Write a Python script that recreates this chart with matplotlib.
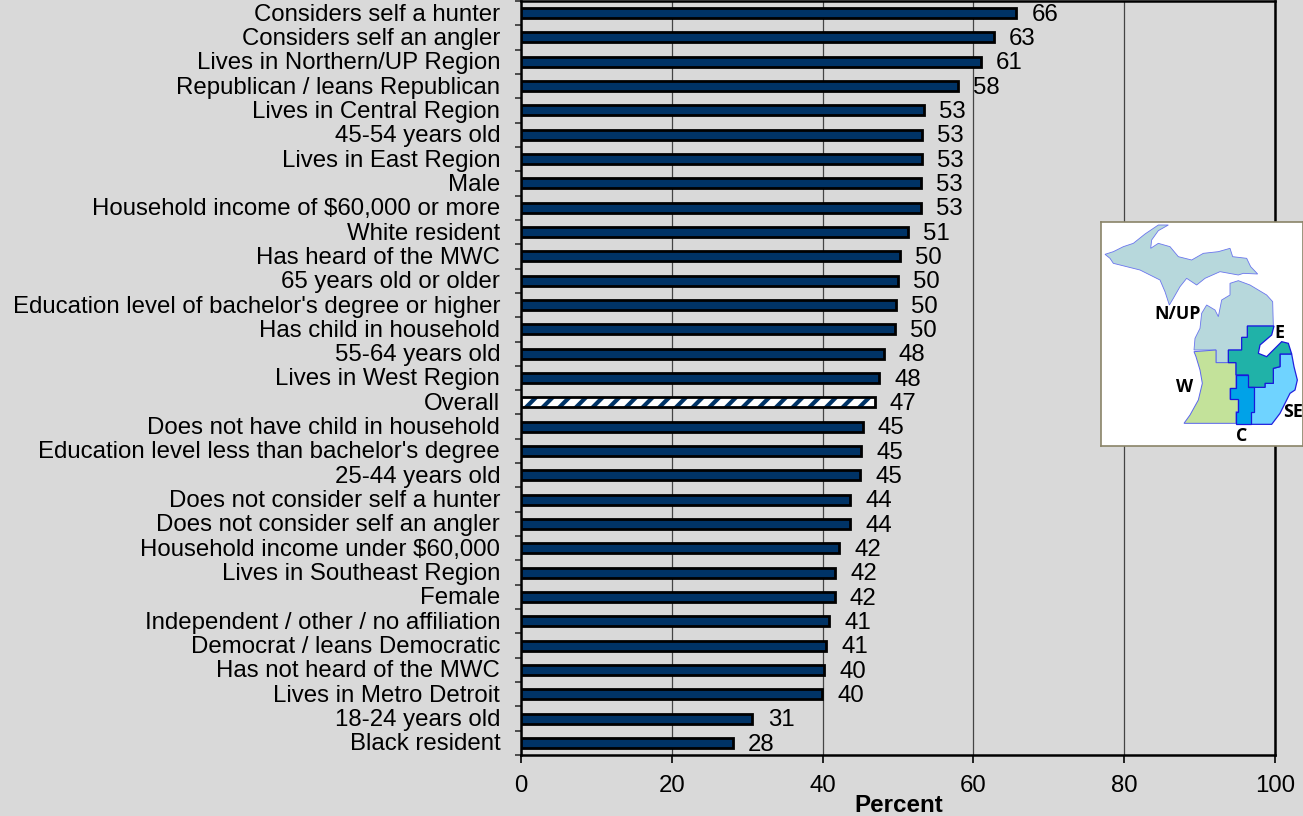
import matplotlib
matplotlib.use("Agg")
import matplotlib.pyplot as plt
from matplotlib.patches import Polygon
from matplotlib.transforms import ScaledTranslation
import numpy as np

plt.rcParams['font.family'] = ['Liberation Sans', 'DejaVu Sans']
plt.rcParams['hatch.linewidth'] = 3.0

categories = ["Considers self a hunter", "Considers self an angler", "Lives in Northern/UP Region",
    "Republican / leans Republican", "Lives in Central Region", "45-54 years old", "Lives in East Region",
    "Male", "Household income of $60,000 or more", "White resident", "Has heard of the MWC",
    "65 years old or older", "Education level of bachelor's degree or higher", "Has child in household",
    "55-64 years old", "Lives in West Region", "Overall", "Does not have child in household",
    "Education level less than bachelor's degree", "25-44 years old", "Does not consider self a hunter",
    "Does not consider self an angler", "Household income under $60,000", "Lives in Southeast Region",
    "Female", "Independent / other / no affiliation", "Democrat / leans Democratic",
    "Has not heard of the MWC", "Lives in Metro Detroit", "18-24 years old", "Black resident"]
values = [65.7, 62.7, 61.0, 57.9, 53.4, 53.2, 53.2, 53.0, 53.0, 51.3, 50.2, 50.0, 49.7, 49.6, 48.1, 47.5,
    46.9, 45.3, 45.1, 45.0, 43.7, 43.6, 42.2, 41.7, 41.6, 40.9, 40.5, 40.2, 39.9, 30.7, 28.1]
value_labels = [66, 63, 61, 58, 53, 53, 53, 53, 53, 51, 50, 50, 50, 50, 48, 48, 47, 45, 45, 45, 44, 44,
    42, 42, 42, 41, 41, 40, 40, 31, 28]
highlight = "Overall"
x_ticks = [0, 20, 40, 60, 80, 100]

# inset map outlines (decoration, in the inset's own coordinates)
region_up = [(45,133),(70,125),(100,110),(130,100),(165,72),(205,45),(235,45),(205,62),(185,90),(182,115),
    (205,100),(240,110),(265,140),(305,150),(340,130),(385,125),(420,115),(428,140),(470,145),(482,170),
    (503,192),(460,190),(445,195),(390,185),(345,205),(320,225),(290,205),(270,230),(250,265),(238,285),
    (225,245),(210,210),(150,180),(70,160),(60,145)]
region_n = [(420,220),(445,212),(480,225),(530,255),(548,275),(550,348),(472,348),(472,382),(455,382),
    (455,420),(415,420),(415,458),(378,458),(378,420),(312,420),(315,385),(330,355),(335,310),(350,285),
    (375,300),(385,320),(395,270),(420,255)]
region_e = [(472,348),(552,348),(545,375),(510,405),(505,430),(530,440),(575,395),(595,400),(605,432),
    (570,432),(570,470),(550,475),(550,520),(525,520),(525,532),(475,532),(475,495),(438,495),(438,458),
    (415,458),(415,420),(455,420),(455,382),(472,382)]
region_w = [(312,425),(378,420),(378,458),(438,458),(438,535),(420,535),(420,568),(445,568),(445,605),
    (438,605),(438,640),(282,640),(300,615),(325,570),(337,520),(330,480),(318,440)]
region_c = [(438,495),(475,495),(475,532),(492,532),(492,605),(482,605),(482,643),(438,643),(438,605),
    (445,605),(445,568),(420,568),(420,535),(438,535)]
region_se = [(492,532),(525,532),(525,520),(550,520),(550,475),(570,470),(570,432),(605,432),(612,470),
    (622,510),(615,540),(600,550),(590,570),(570,610),(545,643),(482,643),(482,605),(492,605)]

W, H = 1303, 816
NAVY = "#003366"
BG = "#d9d9d9"
FS = 17.3
fig = plt.figure(figsize=(W/100, H/100), dpi=100, facecolor=BG)
ax = fig.add_axes([521/W, 1-755/H, (1275-521)/W, (755-1)/H], facecolor=BG)

pos = np.arange(len(categories))
for y, v, c, lab in zip(pos, values, categories, value_labels):
    if c == highlight:
        ax.barh(y, v, height=0.41, facecolor="white", edgecolor=NAVY, hatch="//", linewidth=0, zorder=3)
        ax.barh(y, v, height=0.41, fill=False, edgecolor="black", linewidth=2.0, zorder=4)
    else:
        ax.barh(y, v, height=0.41, facecolor=NAVY, edgecolor="black", linewidth=2.0, zorder=3)
    ax.annotate(str(lab), (v, y), xytext=(11, -1.2), textcoords="offset points", va="center", ha="left",
                fontsize=FS, color="black", zorder=5)

ax.set_xlim(0, 100)
ax.set_ylim(len(categories)-0.5, -0.5)
ax.set_xticks(x_ticks)
ax.set_xticklabels([str(t) for t in x_ticks], fontsize=FS)
ax.tick_params(axis="x", length=6, width=1.2, pad=8.5, color="black")
ax.set_yticks(pos)
ax.set_yticklabels(categories, fontsize=FS)
ax.tick_params(axis="y", which="major", length=0, pad=15)
for lbl in ax.get_yticklabels():
    lbl.set_transform(lbl.get_transform() + ScaledTranslation(0, 1/100, fig.dpi_scale_trans))
ax.set_yticks(np.arange(len(categories)+1)-0.5, minor=True)
ax.tick_params(axis="y", which="minor", length=4, width=1.2, color="#333333")
ax.xaxis.grid(True, color="#444444", linewidth=0.9, zorder=1)
ax.set_axisbelow(True)
for s in ax.spines.values():
    s.set_linewidth(1.8)
    s.set_color("black")
fig.text(899/W, 1-806/H, "Percent", fontsize=17.4, fontweight="bold", ha="center", va="center")

inset = fig.add_axes([1101/W, 1-446/H, (1303-1101)/W, (446-222)/H], facecolor="white", zorder=10)
inset.set_xlim(33, 639)
inset.set_ylim(708, 36)
inset.set_xticks([])
inset.set_yticks([])
for s in inset.spines.values():
    s.set_color("#8a8468")
    s.set_linewidth(1.2)
for pts, col, ec, lw in [(region_up, "#b7d8dc", "#6a75ee", 0.6), (region_n, "#b7d8dc", "#6a75ee", 0.6),
                 (region_w, "#c3e29a", "#5a65ee", 0.7), (region_se, "#6fd3ff", "#2222dd", 0.9),
                 (region_e, "#20b2a8", "#1818dd", 0.9), (region_c, "#00a2e8", "#1818dd", 0.9)]:
    inset.add_patch(Polygon(pts, closed=True, facecolor=col, edgecolor=ec, linewidth=lw))
for txt, x, y in [("N/UP", 262, 312), ("E", 568, 370), ("W", 285, 530), ("SE", 610, 605), ("C", 456, 677)]:
    inset.text(x, y, txt, fontsize=12.8, fontweight="bold", family="Open Sans", ha="center", va="center", clip_on=False)

fig.savefig("out.png", dpi=100, facecolor=BG)
